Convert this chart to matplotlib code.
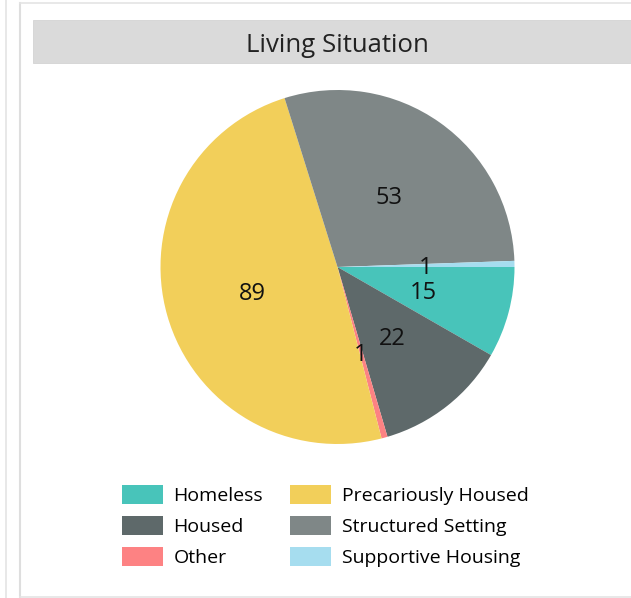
import matplotlib.pyplot as plt
from matplotlib.patches import Rectangle, Patch
import matplotlib as mpl

mpl.rcParams['font.family'] = ['Open Sans', 'DejaVu Sans']

W, H = 631, 598
TITEL = "Living Situation"

labels = ["Homeless", "Housed", "Other", "Precariously Housed",
          "Structured Setting", "Supportive Housing"]
values = [15, 22, 1, 89, 53, 1]
colors = ["#48C4BA", "#5E696A", "#FD8283", "#F2CF5A", "#7F8787", "#A6DDEF"]


def fx(px):
    return px / W


def fy(py):
    # pixel from top -> figure fraction
    return 1 - py / H


fig = plt.figure(figsize=(W / 100, H / 100), dpi=100)
fig.patch.set_facecolor("white")

# panel borders
fig.add_artist(plt.Line2D([fx(6), fx(6)], [0, 1], color="#e4e4e4", lw=1.2))
fig.add_artist(plt.Line2D([fx(20), fx(20)], [fy(3), fy(597)], color="#dedede", lw=1.5))
fig.add_artist(plt.Line2D([fx(20), 1], [fy(3), fy(3)], color="#e4e4e4", lw=1.2))
fig.add_artist(plt.Line2D([fx(20), 1], [fy(597), fy(597)], color="#e4e4e4", lw=1.2))

# title bar
fig.add_artist(Rectangle((fx(33), fy(63)), fx(631 - 33), (63 - 20) / H,
                         facecolor="#dadada", edgecolor="#d3d3d3", lw=0.6,
                         transform=fig.transFigure))
fig.text(fx(337), fy(43), TITEL, ha="center", va="center_baseline", fontsize=18.5,
         color="#222222")

# pie
cx, cy, r = 337.5, 267, 177
ax = fig.add_axes([fx(cx - r), fy(cy + r), 2 * r / W, 2 * r / H])
wedges, texts = ax.pie(values, colors=colors, startangle=0, counterclock=False,
                       labels=[str(v) for v in values], labeldistance=0.5,
                       textprops=dict(fontsize=17, color="#111111",
                                      ha="center", va="center_baseline"))
ax.set_xlim(-1, 1)
ax.set_ylim(-1, 1)
ax.set_aspect("auto")
ax.axis("off")

handles = [Patch(facecolor=c, edgecolor="none") for c in colors]
fig.legend(handles, labels, ncol=2, loc="upper left",
           bbox_to_anchor=(fx(122), fy(485)), frameon=False, fontsize=14,
           handlelength=2.1, handleheight=1.1, handletextpad=0.55,
           columnspacing=1.4, labelspacing=0.58, borderpad=0,
           borderaxespad=0)

fig.savefig("out.png", dpi=100)
